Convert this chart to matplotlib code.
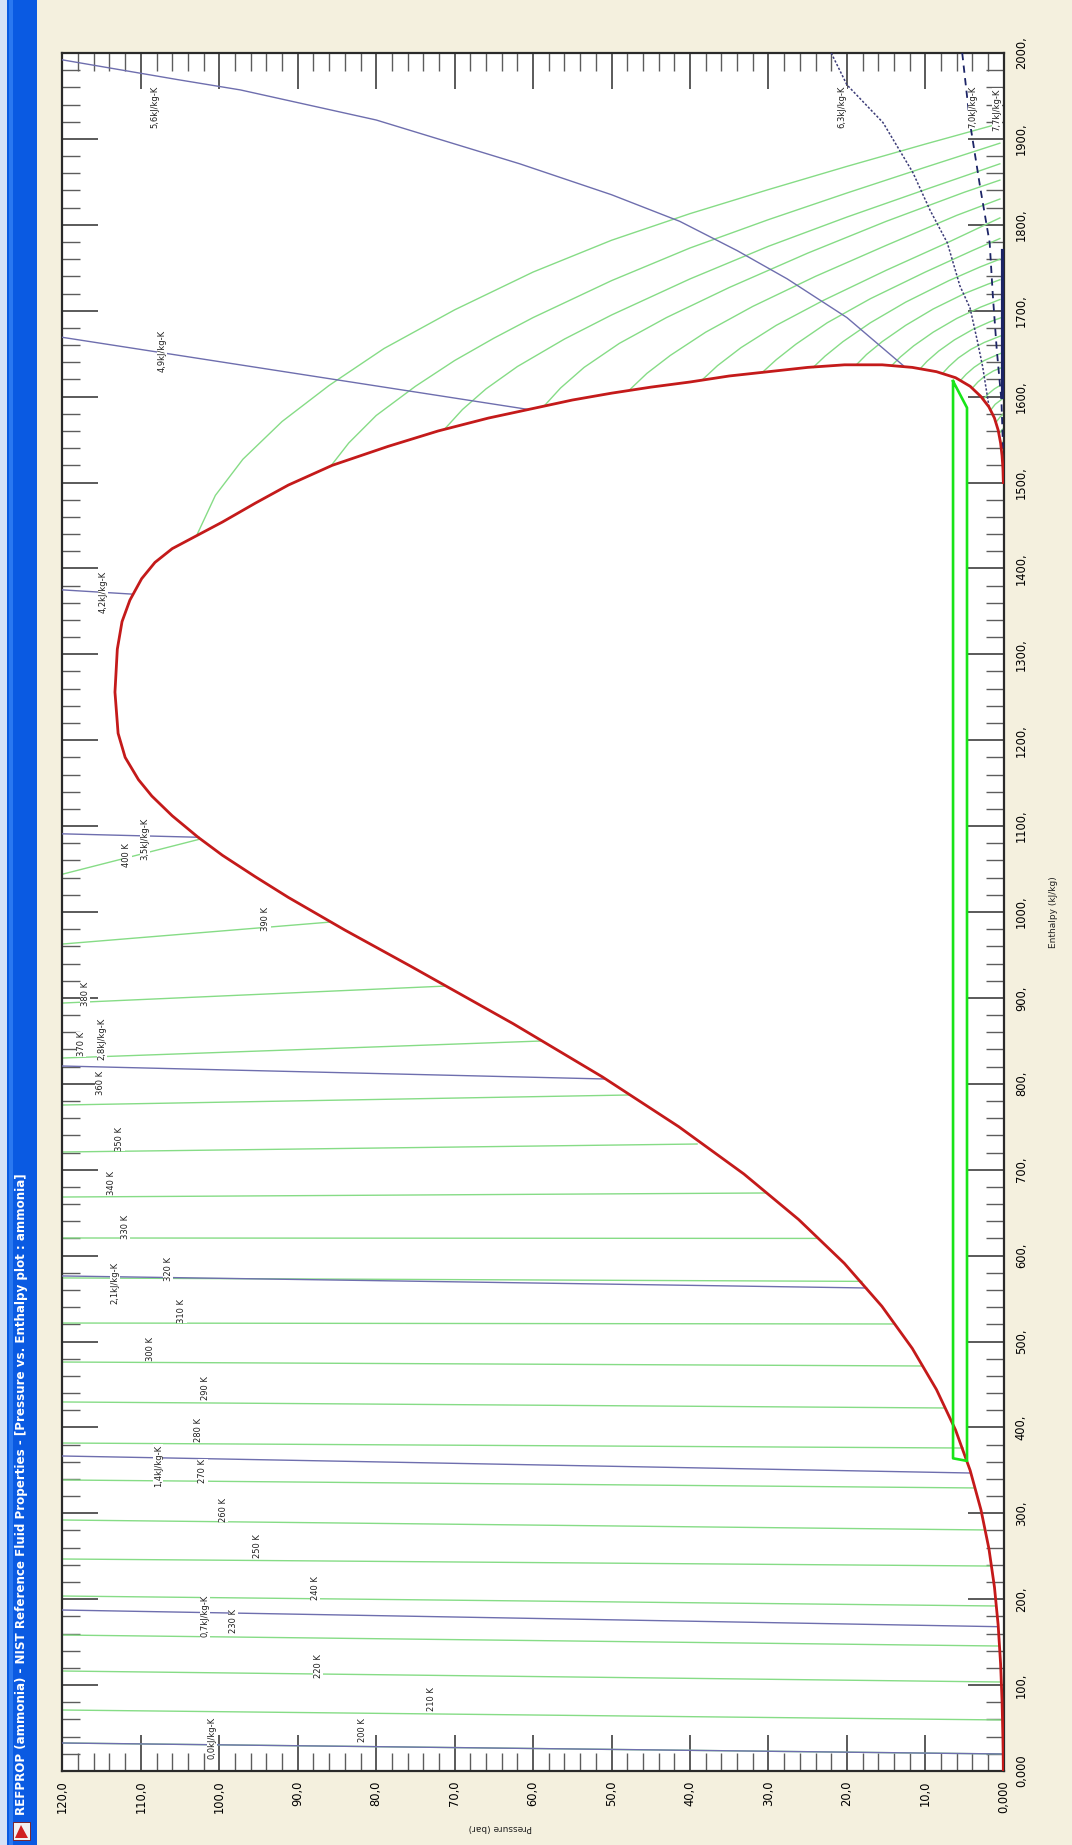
import numpy as np
import matplotlib
matplotlib.use("Agg")
import matplotlib.pyplot as plt
from matplotlib.patches import Rectangle, Polygon
from matplotlib.ticker import MultipleLocator, FuncFormatter

plt.rcParams['font.family'] = ['DejaVu Sans']

# ---- saturation dome (pressure bar, enthalpy kJ/kg) ----
sat_liq_p = [0.06, 0.08, 0.11, 0.22, 0.41, 0.72, 1.19, 1.90, 2.91, 4.29, 6.15, 8.58,
             11.67, 15.54, 20.33, 26.15, 33.13, 41.42, 51.16, 62.55, 75.63, 84.0,
             91.2, 95.4, 99.6, 102.7, 106.0, 108.6, 110.3, 112.0, 112.9]
sat_liq_h = [0, 20, 37, 81, 125, 170, 214, 259, 304, 350, 397, 444,
             492, 541, 591, 642, 695, 750, 808, 870, 937, 979,
             1017, 1041, 1066, 1087, 1112, 1135, 1154, 1180, 1208]
sat_vap_p = [113.3, 113.0, 112.4, 111.4, 109.9, 108.2, 106.0, 102.7, 99.6, 95.4,
             91.2, 85.6, 78.5, 72.1, 65.7, 60.6, 55.0, 50.0, 45.0, 40.0, 35.0, 30.0,
             25.0, 20.3, 15.5, 11.67, 8.58, 6.15, 4.29, 2.91, 1.90, 1.19, 0.72, 0.41,
             0.22, 0.11, 0.06]
sat_vap_h = [1256, 1306, 1338, 1363, 1388, 1407, 1423, 1439, 1454, 1476,
             1497, 1520, 1542, 1560, 1575, 1585, 1596, 1604, 1611, 1617, 1624, 1629,
             1634, 1637, 1637, 1634, 1629, 1622, 1612, 1600, 1588, 1575, 1561, 1546,
             1531, 1516, 1500]

# ---- isotherms, 200 K to 400 K ----
iso_temps = [200, 210, 220, 230, 240, 250, 260, 270, 280, 290, 300,
             310, 320, 330, 340, 350, 360, 370, 380, 390, 400]
# liquid branch: enthalpy at 120 bar, then where it meets the saturated liquid line
liq_h_120 = [32.6, 71.0, 116.4, 158.3, 203.7, 246.8, 292.2, 338.8, 381.8, 429.6, 476.1,
             521.5, 574.0, 620.5, 668.2, 720.6, 775.3, 830.0, 894.0, 962.7, 1044.0]
liq_p_end = [0.08, 0.165, 0.32, 0.55, 0.96, 1.58, 2.39, 3.67, 5.19, 7.48, 10.34,
             13.9, 18.1, 23.7, 30.2, 39.1, 47.6, 59.0, 71.1, 85.7, 102.4]
liq_h_end = [19.8, 59.4, 103.6, 145.5, 192.1, 238.6, 280.6, 329.5, 376.0, 422.6, 471.5,
             520.4, 570.0, 620.0, 672.9, 729.9, 787.0, 849.8, 913.8, 988.4, 1085.0]
# vapour branch, from the saturated vapour point out to low pressure
vap_p = [
    [0.09, 0.02],
    [0.18, 0.03],
    [0.35, 0.05],
    [0.6, 0.05],
    [1.0, 0.5, 0.05],
    [1.7, 1.1, 0.1],
    [2.6, 2.0, 1.2, 0.1],
    [3.9, 3.3, 2.4, 1.3, 0.2],
    [5.5, 4.8, 3.8, 2.5, 1.0, 0.2],
    [7.8, 7.0, 5.8, 4.2, 2.5, 0.3],
    [10.7, 9.8, 8.3, 6.3, 4.0, 1.8, 0.3],
    [14.3, 13.2, 11.5, 9.0, 6.0, 3.0, 0.5],
    [18.8, 17.5, 15.5, 12.5, 9.0, 5.0, 2.0, 0.5],
    [24.3, 22.8, 20.5, 17.0, 12.5, 7.0, 3.0, 0.5],
    [30.8, 29.0, 26.5, 22.5, 17.0, 10.0, 4.0, 0.5],
    [38.5, 36.5, 33.5, 29.0, 23.0, 15.0, 7.0, 0.5],
    [47.8, 45.5, 42.5, 38.0, 32.0, 24.0, 15.0, 6.0, 0.5],
    [58.6, 56.5, 53.5, 49.0, 43.0, 35.0, 25.0, 15.0, 5.0, 0.5],
    [71.2, 69.0, 66.0, 62.0, 56.0, 50.0, 40.0, 30.0, 20.0, 10.0, 0.5],
    [85.8, 83.5, 80.0, 75.0, 70.0, 65.0, 60.0, 50.0, 40.0, 30.0, 20.0, 10.0, 0.5],
    [102.8, 100.5, 97.0, 92.0, 86.0, 79.0, 70.0, 60.0, 50.0, 40.0, 30.0, 20.0, 10.0, 0.5],
]
vap_h = [
    [1512, 1518],
    [1527, 1533],
    [1541, 1548],
    [1557, 1563],
    [1570, 1576, 1580],
    [1584, 1591, 1598],
    [1597, 1603, 1609, 1615],
    [1611, 1617, 1624, 1630, 1634],
    [1619, 1626, 1634, 1642, 1648, 1651],
    [1627, 1635, 1645, 1655, 1663, 1671],
    [1632, 1641, 1653, 1666, 1678, 1687, 1692],
    [1636, 1646, 1659, 1675, 1691, 1704, 1713],
    [1637, 1649, 1664, 1683, 1702, 1720, 1731, 1736],
    [1634, 1647, 1664, 1686, 1710, 1735, 1751, 1760],
    [1628, 1643, 1661, 1686, 1714, 1745, 1770, 1784],
    [1619, 1636, 1657, 1683, 1712, 1747, 1780, 1808],
    [1607, 1627, 1648, 1675, 1705, 1740, 1776, 1811, 1830],
    [1589, 1610, 1634, 1662, 1692, 1727, 1767, 1804, 1838, 1852],
    [1563, 1585, 1609, 1635, 1667, 1695, 1737, 1775, 1809, 1841, 1871],
    [1519, 1546, 1578, 1612, 1642, 1668, 1692, 1735, 1773, 1806, 1837, 1867, 1895],
    [1440, 1485, 1527, 1571, 1613, 1656, 1701, 1745, 1782, 1813, 1841, 1868, 1894, 1918],
]
# label anchor of each isotherm (pressure, enthalpy)
iso_lab_p = [81.8, 72.9, 87.4, 98.2, 87.8, 95.1, 99.5, 102.1, 102.7, 101.8, 108.8,
             104.8, 106.5, 112.0, 113.7, 112.7, 115.2, 117.6, 117.1, 94.1, 111.8]
iso_lab_h = [47.7, 83.8, 122.2, 174.6, 213.0, 261.9, 303.8, 349.2, 397.0, 445.9, 491.3,
             535.5, 584.4, 633.3, 684.5, 735.7, 800.9, 846.0, 904.5, 991.9, 1066.0]

# ---- isentropes ----
s_values = [0.0, 0.7, 1.4, 2.1, 2.8, 3.5, 4.2, 4.9, 5.6, 6.3, 7.0, 7.7]
s_p = [
    [120, 0.08],
    [120, 0.70],
    [120, 4.2],
    [120, 17.5],
    [120, 50.8],
    [120, 102.6],
    [120, 111.0],
    [120, 60.6],
    [120, 105.3, 97.3, 80.0, 61.7, 50.0, 41.3, 34.0, 27.6, 20.0, 12.8],
    [22.0, 20.0, 15.4, 11.6, 9.4, 7.2, 5.6, 4.3, 3.4, 2.7, 1.9],
    [5.3, 4.3, 3.0, 1.8, 1.4, 0.9, 0.3, 0.1],
    [0.05, 0.05],
]
s_h = [
    [32.6, 19.8],
    [187.4, 168.0],
    [366.7, 346.9],
    [576.3, 562.3],
    [820.7, 805.6],
    [1091, 1087],
    [1375, 1370],
    [1669, 1585],
    [1992, 1969, 1957, 1922, 1871, 1835, 1804, 1770, 1737, 1692, 1636],
    [2000, 1963, 1919, 1861, 1817, 1779, 1729, 1703, 1666, 1635, 1589],
    [2000, 1918, 1843, 1779, 1718, 1655, 1595, 1540],
    [1770, 1600],
]
s_lab_p = [100.9, 101.8, 107.8, 113.3, 115.0, 109.5, 114.8, 107.3, 108.2, 20.6, 3.9, 0.9]
s_lab_h = [38.4, 180.4, 355.1, 568.1, 852.0, 1085, 1372.5, 1653, 1937, 1937, 1937, 1934]

# ---- refrigeration cycle ----
cycle_p = [6.47, 6.47, 4.69, 4.69, 6.47]
cycle_h = [1618, 364, 361, 1587, 1618]

title = ("REFPROP (ammonia) - NIST Reference Fluid Properties - "
         "[Pressure vs. Enthalpy plot : ammonia]")

W, H = 1072, 1845
fig = plt.figure(figsize=(W / 100, H / 100), dpi=100, facecolor='#F4F0DE')

# window title bar running up the left side
fig.patches.append(Rectangle((0, 0), 7 / W, 1, transform=fig.transFigure,
                             facecolor='#D6E2F7', edgecolor='none'))
fig.patches.append(Rectangle((7 / W, 0), 30 / W, 1, transform=fig.transFigure,
                             facecolor='#0A5AE2', edgecolor='none'))
fig.patches.append(Rectangle((9 / W, 0), 4 / W, 1, transform=fig.transFigure,
                             facecolor='#2A78F0', edgecolor='none'))
fig.patches.append(Rectangle((13 / W, 1 - 1840 / H), 17 / W, 18 / H, transform=fig.transFigure,
                             facecolor='#F2F2F2', edgecolor='#7A1010', lw=0.6))
fig.patches.append(Polygon([(15 / W, 1 - 1838 / H), (28 / W, 1 - 1838 / H), (21 / W, 1 - 1825 / H)],
                           closed=True, transform=fig.transFigure,
                           facecolor='#D02020', edgecolor='none'))
fig.text(22 / W, 1 - 1815 / H, title, rotation=90, ha='center', va='bottom',
         color='white', fontsize=8.6, fontweight='bold')

ax = fig.add_axes([62.4 / W, 74 / H, 941.4 / W, 1718 / H])
ax.set_facecolor('white')
ax.set_xlim(120, 0)
ax.set_ylim(0, 2000)

green = '#86DC86'
slate = '#6E6EAE'
lab_box = dict(facecolor='white', edgecolor='none', pad=0.3)

# isotherms
for i in range(len(iso_temps)):
    ax.plot([120, liq_p_end[i]], [liq_h_120[i], liq_h_end[i]], color=green, lw=1.0, zorder=2)
    ax.plot(vap_p[i], vap_h[i], color=green, lw=1.0, zorder=2)
    ax.text(iso_lab_p[i], iso_lab_h[i], f'{iso_temps[i]} K', rotation=90,
            ha='center', va='center', fontsize=6, color='#202020', zorder=6, bbox=lab_box)

# isentropes
for i in range(len(s_values)):
    if i == 9:
        ax.plot(s_p[i], s_h[i], color='#3C3C78', lw=1.1, ls=(0, (1.5, 1.2)), zorder=3)
    elif i == 10:
        ax.plot(s_p[i], s_h[i], color='#1C2466', lw=1.3, ls=(0, (4, 3)), zorder=3)
    elif i == 11:
        ax.plot(s_p[i], s_h[i], color='#1C2466', lw=3.0, zorder=3)
    else:
        ax.plot(s_p[i], s_h[i], color=slate, lw=1.0, zorder=3)
    lab = f'{s_values[i]:.1f}'.replace('.', ',') + 'kJ/kg-K'
    ax.text(s_lab_p[i], s_lab_h[i], lab, rotation=90, ha='center', va='center',
            fontsize=6, color='#202020', zorder=6, bbox=lab_box)

# saturation dome
ax.plot(sat_liq_p + sat_vap_p, sat_liq_h + sat_vap_h, color='#C41A1A', lw=2.0,
        zorder=4, solid_joinstyle='round')

# cycle
ax.plot(cycle_p, cycle_h, color='#18E418', lw=1.9, zorder=5)

# frame and ticks
for sp in ax.spines.values():
    sp.set_color('#2A2A2A')
    sp.set_linewidth(1.6)

ax.xaxis.set_major_locator(MultipleLocator(10))
ax.xaxis.set_minor_locator(MultipleLocator(2))
ax.yaxis.set_major_locator(MultipleLocator(100))
ax.yaxis.set_minor_locator(MultipleLocator(20))
ax.xaxis.set_major_formatter(FuncFormatter(
    lambda v, pos: '0,000' if v == 0 else f'{v:.1f}'.replace('.', ',')))
ax.yaxis.set_major_formatter(FuncFormatter(
    lambda v, pos: '0,000' if v == 0 else f'{int(v)},'))

ax.tick_params(which='both', direction='in', top=True, bottom=True, left=True, right=True)
ax.tick_params(which='major', length=26, width=1.1, color='#2E2E2E')
ax.tick_params(which='minor', length=13, width=1.0, color='#5C5C5C')
ax.tick_params(axis='x', labelbottom=True, labeltop=False, labelrotation=90,
               labelsize=8.3, pad=7)
ax.tick_params(axis='y', labelleft=False, labelright=True, labelrotation=90,
               labelsize=8.3, pad=8)
for lab in ax.get_yticklabels():
    lab.set_va('center')
    lab.set_ha('left')

fig.text(1053 / W, 1 - 912 / H, 'Enthalpy (kJ/kg)', rotation=90, ha='center', va='center',
         fontsize=6.5, color='#202020')
fig.text(500 / W, 1 - 1828 / H, 'Pressure (bar)', rotation=180, ha='center', va='center',
         fontsize=6.5, color='#202020')

fig.savefig('out.png', dpi=100, facecolor=fig.get_facecolor())
